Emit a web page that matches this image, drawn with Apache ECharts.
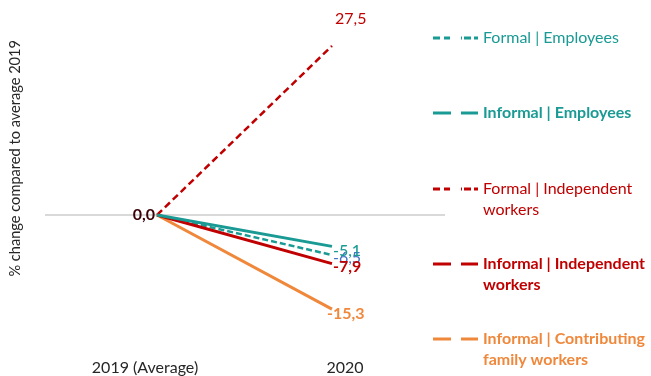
<!DOCTYPE html>
<html>
<head>
<meta charset="utf-8">
<script src="https://cdn.jsdelivr.net/npm/echarts@6/dist/echarts.min.js"></script>
<style>html,body{margin:0;padding:0;background:#fff}#c{width:651px;height:376px}</style>
</head>
<body>
<div id="c"></div>
<script>
const categories = ['2019 (Average)', '2020'];
const formalEmployees = [0, -6.5];
const informalEmployees = [0, -5.1];
const formalIndependent = [0, 27.5];
const informalIndependent = [0, -7.9];
const informalFamily = [0, -15.3];
const seriesNames = ['Formal | Employees', 'Informal | Employees', 'Formal | Independent\nworkers', 'Informal | Independent\nworkers', 'Informal | Contributing\nfamily workers'];

const TEAL = '#1a9a94', RED = '#c00000', ORANGE = '#f0883c';
const FONT = 'Lato';
const fmt = v => v.toFixed(1).replace('.', ',');

function build(values, endLabel, startLabel) {
  const base = { show: true, fontFamily: FONT, fontSize: 16, textBorderWidth: 0, textBorderColor: 'transparent', formatter: p => fmt(p.value[1]) };
  return values.map((v, i) => {
    const d = { value: [i, v] };
    if (i === 1 && endLabel) d.label = Object.assign({}, base, { position: 'right', distance: 0 }, endLabel);
    if (i === 0 && startLabel) d.label = Object.assign({}, base, { position: 'left', distance: 2 }, startLabel);
    return d;
  });
}

const dashIcon = 'path://M0,0H7V3H0Z M11,0H17V3H11Z M28,0H29V3H28Z M31,0H38V3H31Z M41,0H45V3H41Z';
const solidIcon = 'path://M0,0H18V3H0Z M28,0H45V3H28Z';
const tall = ' M0,23.99H0.01V24H0Z';

function legend(name, top, icon, color, bold, twoLine) {
  return {
    data: [name], left: 433, top: top, padding: 0, orient: 'vertical',
    icon: twoLine ? icon + tall : icon,
    itemWidth: 45, itemHeight: twoLine ? 24 : 3,
    selectedMode: false,
    textStyle: { color: color, fontFamily: FONT, fontSize: 16, fontWeight: bold ? 'bold' : 'normal', lineHeight: 21 }
  };
}

const common = { type: 'line', xAxisIndex: 1, symbol: 'circle', symbolSize: 0, showSymbol: true };

const option = {
  animation: false,
  grid: { left: 45, right: 206, top: 30.5, bottom: 38 },
  xAxis: [
    { type: 'category', data: categories, boundaryGap: true, axisLine: { show: false }, axisTick: { show: false },
      axisLabel: { margin: 22, color: '#262626', fontFamily: FONT, fontSize: 16 } },
    { type: 'value', min: -0.64, max: 1.646, show: false }
  ],
  yAxis: { type: 'value', min: -20, max: 30, interval: 10,
    axisLine: { show: false }, axisTick: { show: false }, axisLabel: { show: false },
    splitLine: { show: true, lineStyle: { width: 2, color: ['rgba(0,0,0,0)', 'rgba(0,0,0,0)', '#d9d9d9', 'rgba(0,0,0,0)', 'rgba(0,0,0,0)', 'rgba(0,0,0,0)'] } } },
  legend: [
    legend(seriesNames[0], 27.5, dashIcon, TEAL, false, false),
    legend(seriesNames[1], 102.5, solidIcon, TEAL, true, false),
    legend(seriesNames[2], 178.5, dashIcon, RED, false, true),
    legend(seriesNames[3], 253.5, solidIcon, RED, true, true),
    legend(seriesNames[4], 328.5, solidIcon, ORANGE, true, true)
  ],
  graphic: [{
    type: 'text', left: 8, top: 40, rotation: Math.PI / 2,
    style: { text: '% change compared to average 2019', fill: '#262626', font: '14.6px ' + FONT }
  }],
  series: [
    Object.assign({}, common, { name: seriesNames[0], color: TEAL,
      lineStyle: { width: 2.5, type: [6, 3] },
      data: build(formalEmployees, { color: '#4472c4', offset: [1, 3] }) }),
    Object.assign({}, common, { name: seriesNames[2], color: RED,
      lineStyle: { width: 2.5, type: [7, 4] },
      data: build(formalIndependent, { color: RED, offset: [3, -27] }) }),
    Object.assign({}, common, { name: seriesNames[4], color: ORANGE,
      lineStyle: { width: 3 },
      data: build(informalFamily, { color: ORANGE, fontWeight: 'bold', offset: [-5, 5] }) }),
    Object.assign({}, common, { name: seriesNames[3], color: RED,
      lineStyle: { width: 3 },
      data: build(informalIndependent, { color: RED, fontWeight: 'bold', offset: [1, 3] }, { color: '#3c0008', fontWeight: 'bold' }) }),
    Object.assign({}, common, { name: seriesNames[1], color: TEAL,
      lineStyle: { width: 3 },
      data: build(informalEmployees, { color: TEAL, fontWeight: 500, offset: [1, 4] }) })
  ]
};
echarts.init(document.getElementById('c')).setOption(option);
</script>
</body>
</html>
